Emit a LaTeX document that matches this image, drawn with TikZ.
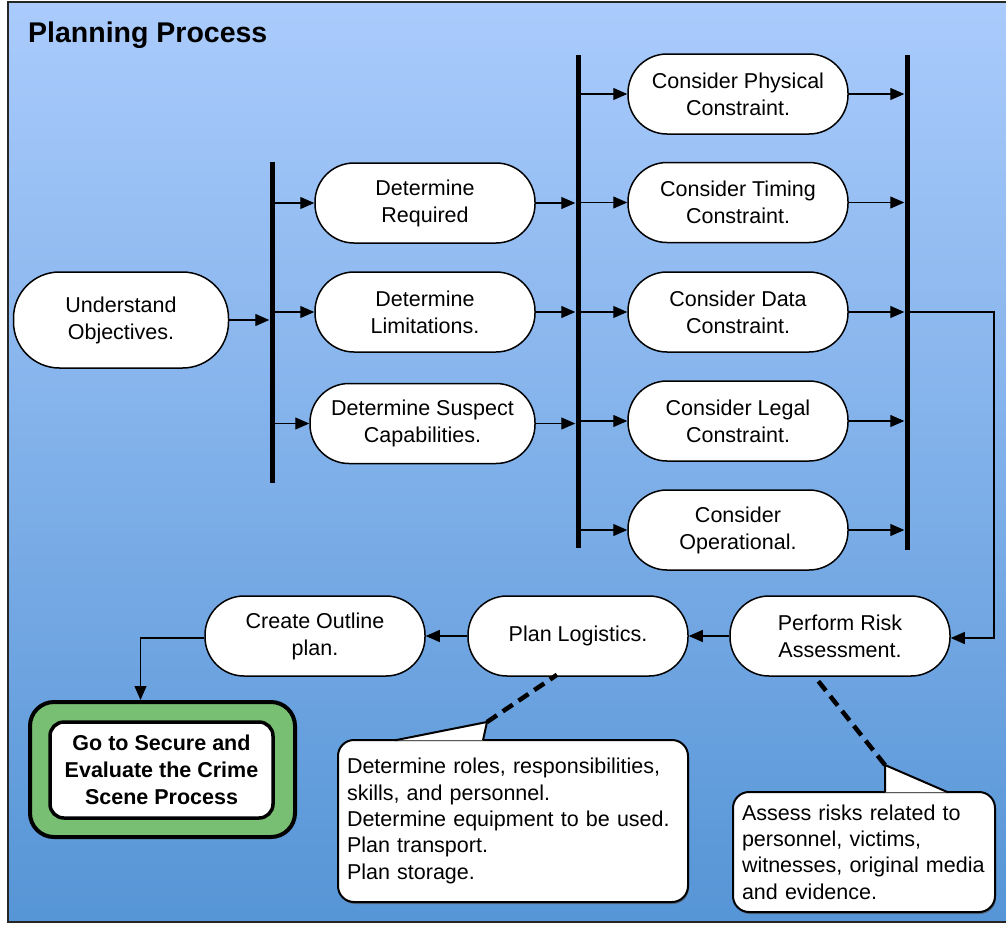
\documentclass[tikz,border=0pt]{standalone}
\usepackage{fontspec}
\setmainfont{Liberation Sans}
\usetikzlibrary{arrows.meta,positioning,shadows}

\definecolor{skytop}{RGB}{170,203,252}
\definecolor{skybottom}{RGB}{86,149,214}
\definecolor{goalgreen}{RGB}{121,191,115}

\tikzset{
  task/.style={draw, fill=white, line width=1.5pt, rounded corners=39pt,
    minimum width=220pt, minimum height=80pt, inner sep=2pt, align=center,
    font=\fontsize{21.5}{27}\selectfont},
  bar/.style={fill=black, inner sep=0pt, minimum width=5pt},
  flow/.style={-{Triangle[length=14pt,width=12pt]}, line width=1.1pt},
  note/.style={draw, fill=white, line width=2pt, rounded corners=16pt,
    inner sep=9pt, align=left, font=\fontsize{21.5}{26.3}\selectfont,
    drop shadow={shadow xshift=1pt, shadow yshift=-2pt, fill=black!70, opacity=0.6}},
  tether/.style={line width=4.5pt, dash pattern=on 12pt off 7pt},
}

\begin{document}
\begin{tikzpicture}[x=1pt,y=-1pt]
\useasboundingbox (0,0) rectangle (1006,924);
% backdrop
\shade[top color=skytop, bottom color=skybottom, draw=black!85, line width=2.5pt]
  (8,2) rectangle (1014,922);
\node[anchor=base west, inner sep=0pt, font=\bfseries\fontsize{28.5}{30}\selectfont]
  (title) at (28,42) {Planning Process};

% first split
\node[task, minimum width=215pt, minimum height=96pt, rounded corners=46pt]
  (objectives) at (121,320) {Understand\\Objectives.};
\node[bar, minimum height=321pt] (barone) at (272,322.5) {};
\node[task] (required) at (425,203) {Determine\\Required};
\node[task] (limits) at (425,312) {Determine\\Limitations.};
\node[task, minimum width=225pt] (suspect) at (422.5,423.5) {Determine Suspect\\Capabilities.};

% constraints
\node[bar, minimum height=493pt] (bartwo) at (578,301.5) {};
\node[task] (physical) at (738,94) {Consider Physical\\Constraint.};
\node[task] (timing) at (738,202.5) {Consider Timing\\Constraint.};
\node[task] (data) at (738,312) {Consider Data\\Constraint.};
\node[task] (legal) at (738,421) {Consider Legal\\Constraint.};
\node[task] (operational) at (738,530) {Consider\\Operational.};
\node[bar, minimum height=495pt] (barthree) at (907,302.5) {};

% bottom row
\node[task] (risk) at (840,636) {Perform Risk\\Assessment.};
\node[task] (logistics) at (578,636) {Plan Logistics.};
\node[task] (outline) at (315,636) {Create Outline\\plan.};

\node[draw, fill=goalgreen, line width=4pt, rounded corners=24pt,
  minimum width=265pt, minimum height=135pt] (goalframe) at (162.5,769.5) {};
\node[draw, fill=white, line width=3.5pt, rounded corners=14pt,
  minimum width=223pt, minimum height=96pt, align=center,
  font=\bfseries\fontsize{21.5}{27}\selectfont]
  (goal) at (161.5,770) {Go to Secure and\\Evaluate the Crime\\Scene Process};

% arrows
\draw[flow] (objectives.east) -- (objectives.east -| barone.west);
\foreach \n in {required,limits,suspect}{
  \draw[flow] (\n.west -| barone.east) -- (\n.west);
  \draw[flow] (\n.east) -- (\n.east -| bartwo.west);
}
\foreach \n in {physical,timing,data,legal,operational}{
  \draw[flow] (\n.west -| bartwo.east) -- (\n.west);
  \draw[flow] (\n.east) -- (\n.east -| barthree.west);
}
\coordinate (bend) at (994,312);
\draw[flow] (bend -| barthree.east) -- (bend) |- ([yshift=-2pt]risk.east);
\draw[flow] (risk.west) -- (logistics.east);
\draw[flow] (logistics.west) -- (outline.east);
\draw[flow] ([yshift=-2pt]outline.west) -| ([xshift=-22pt]goalframe.north);

% callouts
\node[note, minimum width=350pt, minimum height=162pt, text width=332pt]
  (gear) at (513,821) {Determine roles, responsibilities,\\skills, and personnel.\\
  Determine equipment to be used.\\Plan transport.\\Plan storage.};
\coordinate (geartip) at (487,722);
\filldraw[fill=white, line width=2pt, line join=round]
  ([xshift=-118pt,yshift=-1.3pt]gear.north) -- (geartip) -- ([xshift=-30pt,yshift=-1.3pt]gear.north);
\draw[tether] (geartip) -- ([xshift=-21pt,yshift=2pt]logistics.south);

\node[note, minimum width=262pt, minimum height=120pt, text width=244pt]
  (hazard) at (864,852) {Assess risks related to\\personnel, victims,\\
  witnesses, original media\\and evidence.};
\coordinate (hazardtip) at (885,765);
\filldraw[fill=white, line width=2pt, line join=round]
  ([xshift=21pt,yshift=-1.3pt]hazard.north) -- (hazardtip) -- ([xshift=84pt,yshift=-1.3pt]hazard.north);
\draw[tether] (hazardtip) -- ([xshift=-22pt,yshift=-4pt]risk.south);
\end{tikzpicture}
\end{document}
